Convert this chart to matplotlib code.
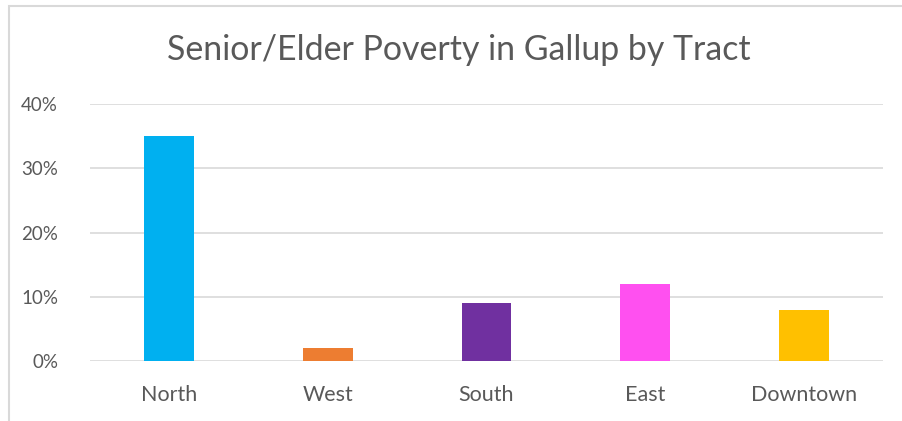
import matplotlib.pyplot as plt
from matplotlib.patches import Rectangle
from matplotlib.ticker import PercentFormatter

tracts = ['North', 'West', 'South', 'East', 'Downtown']
poverty = [35, 2, 9, 12, 8]
colors = ['#00B0F0', '#ED7D31', '#7030A0', '#FF50F0', '#FFC000']

plt.rcParams['font.family'] = ['Lato', 'DejaVu Sans']
text_color = '#595959'
grid_color = '#D9D9D9'

W, H = 902, 421
fig = plt.figure(figsize=(W / 100, H / 100), dpi=100)

# chart border (only left and top edges are visible in the crop)
fig.patches.append(Rectangle((8.5 / W, -0.1), 1.2, 1 - 5.5 / H + 0.1,
                             transform=fig.transFigure, fill=False,
                             edgecolor=grid_color, linewidth=1.5))

ax = fig.add_axes([90 / W, 1 - 361 / H, (883 - 90) / W, (361 - 104) / H])
ax.bar(range(len(tracts)), poverty, width=0.315, color=colors, zorder=3)

ax.set_xlim(-0.5, len(tracts) - 0.5)
ax.set_ylim(0, 40)
ax.set_yticks([0, 10, 20, 30, 40])
ax.yaxis.set_major_formatter(PercentFormatter(decimals=0))
ax.set_xticks(range(len(tracts)))
ax.set_xticklabels(tracts)

ax.grid(axis='y', color=grid_color, linewidth=1.2, zorder=0)
for s in ax.spines.values():
    s.set_visible(False)
ax.tick_params(length=0, colors=text_color)
ax.tick_params(axis='y', pad=23, labelsize=13.5)
ax.tick_params(axis='x', pad=17, labelsize=15.5)

fig.text(459 / W, 1 - 50 / H, 'Senior/Elder Poverty in Gallup by Tract',
         ha='center', va='center', fontsize=24.4, color=text_color)

fig.savefig('out.png', dpi=100)
